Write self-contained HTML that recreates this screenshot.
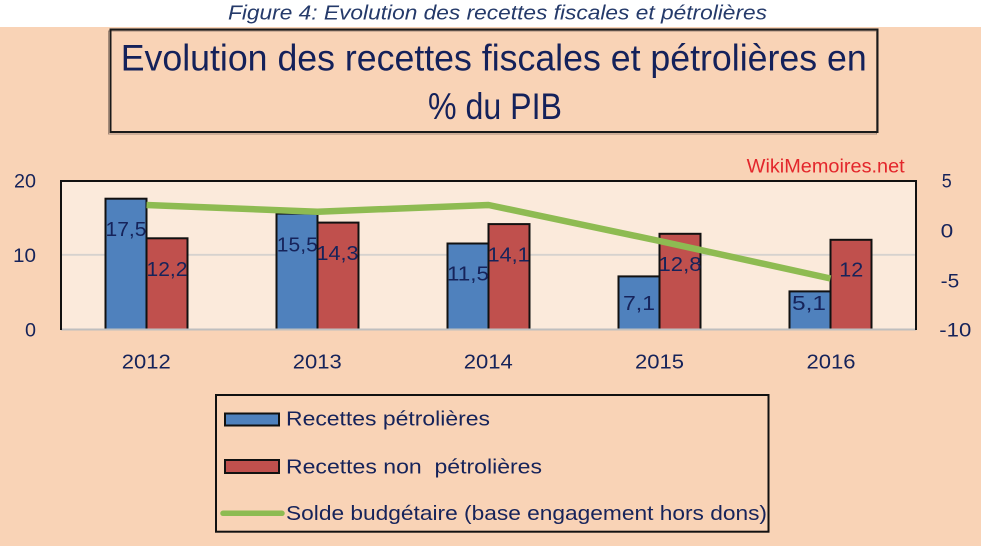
<!DOCTYPE html>
<html>
<head>
<meta charset="utf-8">
<style>
  html, body { margin: 0; padding: 0; }
  body { width: 981px; height: 546px; overflow: hidden; background: #F9D3B6; }
  svg { display: block; }
  text { font-family: "Liberation Sans", Arial, sans-serif; }
</style>
</head>
<body>
<svg width="981" height="546" viewBox="0 0 981 546" xmlns="http://www.w3.org/2000/svg">
  <!-- backgrounds -->
  <rect x="0" y="0" width="981" height="546" fill="#F9D3B6"/>
  <rect x="0" y="0" width="981" height="27" fill="#FFFFFF"/>

  <!-- caption -->
  <text x="228" y="19.5" font-size="20" font-style="italic" fill="#253A6A" textLength="539" lengthAdjust="spacingAndGlyphs">Figure 4: Evolution des recettes fiscales et pétrolières</text>

  <!-- title box -->
  <rect x="108.5" y="31" width="768" height="103" fill="none" stroke="#6b5a50" stroke-width="1" opacity="0.6"/>
  <rect x="110.5" y="29.5" width="767" height="102.5" fill="none" stroke="#1a1a1a" stroke-width="2"/>
  <text x="120.7" y="70.5" font-size="37" fill="#14215A" textLength="746" lengthAdjust="spacingAndGlyphs">Evolution des recettes fiscales et pétrolières en</text>
  <text x="428" y="119" font-size="37" fill="#14215A" textLength="134" lengthAdjust="spacingAndGlyphs">% du PIB</text>

  <!-- watermark -->
  <text x="746.7" y="172.5" font-size="19" fill="#E3262B" textLength="158" lengthAdjust="spacingAndGlyphs">WikiMemoires.net</text>

  <!-- plot area -->
  <rect x="61" y="181" width="855" height="148.5" fill="#FBEADB"/>
  <line x1="61" y1="254.8" x2="916" y2="254.8" stroke="#D6D2CE" stroke-width="1.8"/>

  <!-- bars -->
  <g stroke="#111" stroke-width="2">
    <rect x="105.5" y="198.7" width="41" height="130.8" fill="#4F81BD"/>
    <rect x="146.5" y="238.3" width="41" height="91.2" fill="#C0504D"/>
    <rect x="276.5" y="213.6" width="41" height="115.9" fill="#4F81BD"/>
    <rect x="317.5" y="222.6" width="41" height="106.9" fill="#C0504D"/>
    <rect x="447.5" y="243.5" width="41" height="86" fill="#4F81BD"/>
    <rect x="488.5" y="224.1" width="41" height="105.4" fill="#C0504D"/>
    <rect x="618.5" y="276.4" width="41" height="53.1" fill="#4F81BD"/>
    <rect x="659.5" y="233.8" width="41" height="95.7" fill="#C0504D"/>
    <rect x="789.5" y="291.4" width="41" height="38.1" fill="#4F81BD"/>
    <rect x="830.5" y="239.8" width="41" height="89.7" fill="#C0504D"/>
  </g>

  <!-- plot borders -->
  <line x1="61" y1="329.5" x2="916" y2="329.5" stroke="#BFBFBF" stroke-width="2"/>
  <line x1="60" y1="181" x2="917" y2="181" stroke="#111" stroke-width="2"/>
  <line x1="61" y1="180" x2="61" y2="330" stroke="#111" stroke-width="2"/>
  <line x1="916" y1="180" x2="916" y2="330" stroke="#111" stroke-width="2"/>

  <!-- line series -->
  <polyline points="146.5,205 317.5,211.7 488.5,205 659.5,241 830.5,278.5" fill="none" stroke="#8EBB52" stroke-width="6.5" stroke-linejoin="round"/>

  <!-- data labels -->
  <g font-size="20" fill="#16235A" text-anchor="middle">
    <text x="126" y="236" textLength="41" lengthAdjust="spacingAndGlyphs">17,5</text>
    <text x="167" y="276" textLength="41" lengthAdjust="spacingAndGlyphs">12,2</text>
    <text x="297.3" y="251.7" textLength="41" lengthAdjust="spacingAndGlyphs">15,5</text>
    <text x="337.5" y="260" textLength="42" lengthAdjust="spacingAndGlyphs">14,3</text>
    <text x="468" y="280.7" textLength="42" lengthAdjust="spacingAndGlyphs">11,5</text>
    <text x="508.7" y="261.7" textLength="42" lengthAdjust="spacingAndGlyphs">14,1</text>
    <text x="680" y="271" textLength="43" lengthAdjust="spacingAndGlyphs">12,8</text>
    <text x="639" y="310" textLength="32" lengthAdjust="spacingAndGlyphs">7,1</text>
    <text x="809" y="310" textLength="34" lengthAdjust="spacingAndGlyphs">5,1</text>
    <text x="851.3" y="276.7" textLength="24" lengthAdjust="spacingAndGlyphs">12</text>
  </g>

  <!-- left axis -->
  <g font-size="19" fill="#16235A" text-anchor="end">
    <text x="36" y="187.3" textLength="22" lengthAdjust="spacingAndGlyphs">20</text>
    <text x="36" y="262" textLength="23" lengthAdjust="spacingAndGlyphs">10</text>
    <text x="36" y="336.5" textLength="11" lengthAdjust="spacingAndGlyphs">0</text>
  </g>

  <!-- right axis -->
  <g font-size="19" fill="#16235A">
    <text x="941.7" y="187.7" textLength="10" lengthAdjust="spacingAndGlyphs">5</text>
    <text x="940.7" y="237.3" textLength="12.6" lengthAdjust="spacingAndGlyphs">0</text>
    <text x="940.7" y="287.3" textLength="18.6" lengthAdjust="spacingAndGlyphs">-5</text>
    <text x="939.3" y="336.7" textLength="32" lengthAdjust="spacingAndGlyphs">-10</text>
  </g>

  <!-- category labels -->
  <g font-size="20" fill="#16235A" text-anchor="middle">
    <text x="146.3" y="368.5" textLength="49" lengthAdjust="spacingAndGlyphs">2012</text>
    <text x="317.3" y="368.5" textLength="49" lengthAdjust="spacingAndGlyphs">2013</text>
    <text x="488.3" y="368.5" textLength="49" lengthAdjust="spacingAndGlyphs">2014</text>
    <text x="659.5" y="368.5" textLength="49" lengthAdjust="spacingAndGlyphs">2015</text>
    <text x="831" y="368.5" textLength="49" lengthAdjust="spacingAndGlyphs">2016</text>
  </g>

  <!-- legend -->
  <rect x="216" y="395" width="552.5" height="136.7" fill="none" stroke="#111" stroke-width="2"/>
  <rect x="225" y="413.5" width="54" height="12" fill="#4F81BD" stroke="#111" stroke-width="2"/>
  <rect x="225" y="460" width="54" height="13" fill="#C0504D" stroke="#111" stroke-width="2"/>
  <line x1="223" y1="513.3" x2="282" y2="513.3" stroke="#8EBB52" stroke-width="5.5" stroke-linecap="round"/>
  <g font-size="20.5" fill="#16235A">
    <text x="286" y="425.7" textLength="204" lengthAdjust="spacingAndGlyphs">Recettes pétrolières</text>
    <text x="286" y="473.3" textLength="256" lengthAdjust="spacingAndGlyphs" style="white-space:pre">Recettes non  pétrolières</text>
    <text x="286" y="520" textLength="481" lengthAdjust="spacingAndGlyphs">Solde budgétaire (base engagement hors dons)</text>
  </g>
</svg>
</body>
</html>
